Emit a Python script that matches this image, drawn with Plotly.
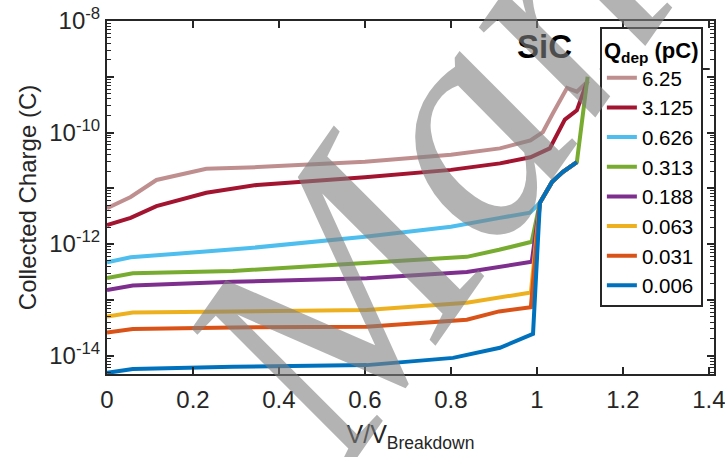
import plotly.graph_objects as go

# ---- data (V/V_breakdown, collected charge in C) ----
labels = ["6.25", "3.125", "0.626", "0.313", "0.188", "0.063", "0.031", "0.006"]
colors = ["#BF8F8F", "#A2142F", "#4DBEEE", "#77AC30", "#7E2F8E", "#EDB120", "#D95319", "#0072BD"]

x_625 = [0, 0.055, 0.115, 0.231, 0.35, 0.6, 0.8, 0.914, 0.985, 1.014, 1.037, 1.07, 1.093, 1.12]
q_625 = [4.4e-12, 7.0e-12, 1.41e-11, 2.24e-11, 2.4e-11, 3.0e-11, 4.0e-11, 5.2e-11, 7.2e-11, 1.02e-10, 2.2e-10, 6.3e-10, 5.4e-10, 8.5e-10]

x_3125 = [0, 0.055, 0.115, 0.231, 0.349, 0.6, 0.8, 0.914, 0.985, 1.03, 1.065, 1.093, 1.116]
q_3125 = [2.2e-12, 2.95e-12, 4.8e-12, 8.3e-12, 1.15e-11, 1.58e-11, 2.14e-11, 2.8e-11, 3.6e-11, 5.2e-11, 1.7e-10, 2.5e-10, 7.8e-10]

x_0626 = [0, 0.055, 0.17, 0.333, 0.6, 0.8, 0.914, 0.984, 1.007, 1.035, 1.06, 1.093]
q_0626 = [4.7e-13, 5.8e-13, 6.8e-13, 8.5e-13, 1.35e-12, 2.04e-12, 2.95e-12, 3.65e-12, 5.5e-12, 1.29e-11, 1.95e-11, 2.95e-11]

x_0313 = [0, 0.06, 0.293, 0.604, 0.837, 0.912, 0.988, 1.007, 1.035, 1.06, 1.093, 1.118]
q_0313 = [2.45e-13, 3.0e-13, 3.3e-13, 4.6e-13, 5.9e-13, 7.9e-13, 1.1e-12, 5.5e-12, 1.29e-11, 1.95e-11, 2.95e-11, 1.0e-9]

x_0188 = [0, 0.06, 0.293, 0.604, 0.837, 0.912, 0.988, 1.007, 1.035, 1.06, 1.093]
q_0188 = [1.5e-13, 1.8e-13, 2.1e-13, 2.45e-13, 3.15e-13, 3.9e-13, 4.8e-13, 5.5e-12, 1.29e-11, 1.95e-11, 2.95e-11]

x_0063 = [0, 0.06, 0.293, 0.604, 0.837, 0.912, 0.986, 1.007, 1.035, 1.06, 1.093]
q_0063 = [5.0e-14, 5.9e-14, 6.2e-14, 6.6e-14, 8.9e-14, 1.1e-13, 1.35e-13, 5.5e-12, 1.29e-11, 1.95e-11, 2.95e-11]

x_0031 = [0, 0.06, 0.293, 0.604, 0.837, 0.912, 0.986, 1.007, 1.035, 1.06, 1.093]
q_0031 = [2.6e-14, 3.0e-14, 3.2e-14, 3.3e-14, 4.4e-14, 6.2e-14, 7.4e-14, 5.5e-12, 1.29e-11, 1.95e-11, 2.95e-11]

x_0006 = [0, 0.06, 0.293, 0.604, 0.805, 0.914, 0.991, 1.007, 1.035, 1.06, 1.093]
q_0006 = [4.9e-15, 5.75e-15, 6.3e-15, 6.75e-15, 9.1e-15, 1.38e-14, 2.45e-14, 5.5e-12, 1.29e-11, 1.95e-11, 2.95e-11]

xs = [x_625, x_3125, x_0626, x_0313, x_0188, x_0063, x_0031, x_0006]
qs = [q_625, q_3125, q_0626, q_0313, q_0188, q_0063, q_0031, q_0006]

x_ticks = [0, 0.2, 0.4, 0.6, 0.8, 1, 1.2, 1.4]
x_ticktext = ["0", "0.2", "0.4", "0.6", "0.8", "1", "1.2", "1.4"]
y_ticks = [1e-14, 1e-13, 1e-12, 1e-11, 1e-10, 1e-9, 1e-8]
y_ticktext = ["10<sup>-14</sup>", "", "10<sup>-12</sup>", "", "10<sup>-10</sup>", "", "10<sup>-8</sup>"]
y_minor = [m * 10.0 ** e for e in range(-15, -8) for m in range(2, 10)]

AX = "#262626"
FONT = "Liberation Sans, Arial, sans-serif"

fig = go.Figure()
for lab, col, x, q in zip(labels, colors, xs, qs):
    fig.add_trace(go.Scatter(x=x, y=q, mode="lines", name=lab,
                             line=dict(color=col, width=4)))

fig.update_layout(
    width=725, height=457,
    margin=dict(l=107, r=11, t=21, b=83),
    paper_bgcolor="white", plot_bgcolor="white",
    font=dict(family=FONT, color=AX),
    showlegend=True,
    legend=dict(x=0.812, y=0.982, xanchor="left", yanchor="top",
                bgcolor="white", bordercolor=AX, borderwidth=2,
                font=dict(size=20.5, family=FONT, color="black"),
                title=dict(text="<b>Q<sub>dep</sub> (pC)</b>", font=dict(size=22, family=FONT, color="black")),
                tracegroupgap=0, itemwidth=30),
    xaxis=dict(range=[0, 1.412], tickmode="array", tickvals=x_ticks, ticktext=x_ticktext,
               ticks="inside", ticklen=7, tickwidth=1.5, tickcolor=AX,
               showline=True, linewidth=2, linecolor=AX, mirror="ticks",
               showgrid=False, zeroline=False, automargin=False,
               ticklabeloverflow="allow", ticklabelstandoff=3,
               tickfont=dict(size=24, family=FONT, color=AX),
               title=dict(text="V/V<sub>Breakdown</sub>", font=dict(size=25, family=FONT, color=AX), standoff=14)),
    yaxis=dict(type="log", range=[-14.33, -8], tickmode="array", tickvals=y_ticks, ticktext=y_ticktext,
               ticks="inside", ticklen=7, tickwidth=1.5, tickcolor=AX,
               minor=dict(tickvals=y_minor, ticks="inside", ticklen=4, tickwidth=1, tickcolor=AX, showgrid=False),
               showline=True, linewidth=2, linecolor=AX, mirror="ticks",
               showgrid=False, zeroline=False, automargin=False,
               ticklabeloverflow="allow",
               tickfont=dict(size=24, family=FONT, color=AX),
               title=dict(text="Collected Charge (C)", font=dict(size=24, family=FONT, color=AX), standoff=6)),
)

# SiC label
fig.add_annotation(x=0.72, y=0.927, xref="paper", yref="paper", text="<b>SiC</b>",
                   showarrow=False, font=dict(size=33, family=FONT, color="black"),
                   xanchor="center", yanchor="middle")

# separator under legend title
fig.add_shape(type="line", xref="paper", yref="paper", x0=0.812, x1=0.993, y0=0.864, y1=0.864,
              line=dict(color=AX, width=2))

# watermark
fig.add_annotation(x=0.52, y=0.56, xref="paper", yref="paper", text="<i>Man</i>",
                   showarrow=False, textangle=-55,
                   font=dict(size=320, family="Liberation Serif, Times New Roman, serif", color="rgba(128,128,128,0.6)"),
                   xanchor="center", yanchor="middle")

fig.write_html("out.html", config={"displayModeBar": False},
               post_script="document.body.style.margin='0px';")
